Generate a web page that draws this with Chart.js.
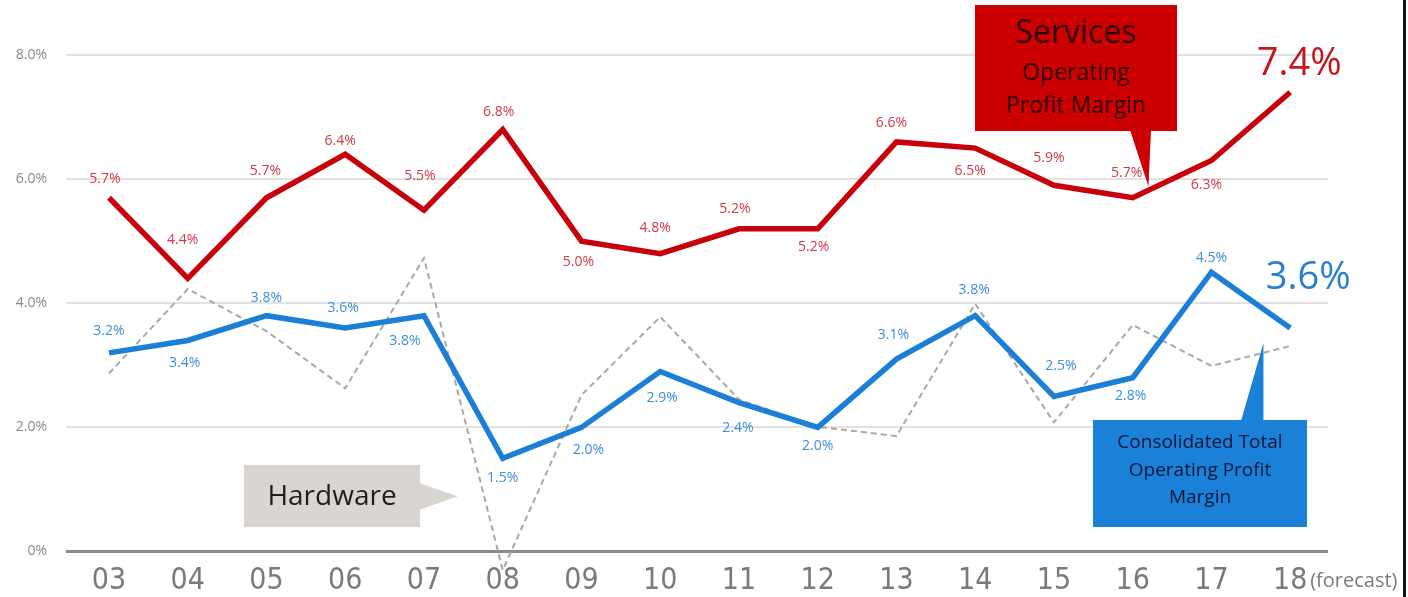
<!DOCTYPE html>
<html>
<head>
<meta charset="utf-8">
<script src="https://cdn.jsdelivr.net/npm/chart.js@4/dist/chart.umd.min.js"></script>
<style>
  html, body { margin: 0; padding: 0; background: #ffffff; }
  #wrap { width: 1408px; height: 597px; position: relative; }
</style>
</head>
<body>
<div id="wrap"><canvas id="c" width="1408" height="597"></canvas></div>
<script>
// ---- Data ----
const categories = ['03','04','05','06','07','08','09','10','11','12','13','14','15','16','17','18'];
const servicesMargin = [5.7, 4.4, 5.7, 6.4, 5.5, 6.8, 5.0, 4.8, 5.2, 5.2, 6.6, 6.5, 5.9, 5.7, 6.3, 7.4];
const consolidatedMargin = [3.2, 3.4, 3.8, 3.6, 3.8, 1.5, 2.0, 2.9, 2.4, 2.0, 3.1, 3.8, 2.5, 2.8, 4.5, 3.6];
const hardwareMargin = [2.87, 4.23, 3.55, 2.63, 4.73, -0.3, 2.52, 3.78, 2.45, 2.01, 1.86, 3.99, 2.08, 3.65, 2.99, 3.31];
const yTickValues = [0, 2, 4, 6, 8];
const yTickLabels = ['0%', '2.0%', '4.0%', '6.0%', '8.0%'];
const forecastNote = '(forecast)';

// ---- Label placement (styling only) ----
const servicesLabelDx = [-4,-5,-1,-5,-4,-4,-3,-5,-4,-4,-5,-5,-5,-6,-5,9];
const servicesLabelDy = [-19,-38,-27,-13,-34,-17,21,-26,-20,18,-19,23,-27,-25,25,-28];
const consolidatedLabelDx = [0,-3,0,-2,-19,0,7,2,-1,0,-3,-1,7,-2,0,18];
const consolidatedLabelDy = [-22,23,-18,-20,25,20,23,26,25,19,-24,-26,-30,18,-14,-50];

const FONT = "'Liberation Sans Narrow', 'DejaVu Sans Condensed', 'Open Sans', sans-serif";
const FONT2 = "'Open Sans', 'Lato', sans-serif";

const RED = '#c8000a', RED_TXT = '#cf3a45';
const BLUE = '#1b7fd8', BLUE_TXT = '#3b8ede';

const overlay = {
  id: 'overlay',
  afterDatasetsDraw(chart) {
    const ctx = chart.ctx;
    const xs = chart.scales.x, ys = chart.scales.y;
    ctx.save();

    // data labels
    ctx.textAlign = 'center';
    ctx.textBaseline = 'middle';
    const last = categories.length - 1;
    servicesMargin.forEach((v, i) => {
      const x = xs.getPixelForValue(i) + servicesLabelDx[i];
      const y = ys.getPixelForValue(v) + servicesLabelDy[i];
      ctx.fillStyle = i === last ? '#c4161c' : RED_TXT;
      ctx.font = i === last ? "38px " + FONT2 : "14px " + FONT2;
      ctx.fillText(v.toFixed(1) + '%', x, y);
    });
    consolidatedMargin.forEach((v, i) => {
      const x = xs.getPixelForValue(i) + consolidatedLabelDx[i];
      const y = ys.getPixelForValue(v) + consolidatedLabelDy[i];
      ctx.fillStyle = i === last ? '#2a7fd0' : BLUE_TXT;
      ctx.font = i === last ? "38px " + FONT2 : "14px " + FONT2;
      ctx.fillText(v.toFixed(1) + '%', x, y);
    });

    // (forecast)
    ctx.fillStyle = '#7a7a7a';
    ctx.font = "20px " + FONT2;
    ctx.textAlign = 'left';
    ctx.fillText(forecastNote, xs.getPixelForValue(last) + 20, 581);

    // Services callout
    const rTipX = xs.getPixelForValue(13.2), rTipY = ys.getPixelForValue(5.88);
    ctx.fillStyle = '#cc0000';
    ctx.fillRect(975, 5, 202, 126);
    ctx.beginPath();
    ctx.moveTo(1130, 130); ctx.lineTo(1151, 130); ctx.lineTo(rTipX, rTipY); ctx.closePath(); ctx.fill();
    ctx.fillStyle = '#2a0000';
    ctx.textAlign = 'center';
    ctx.font = "32px " + FONT2;
    ctx.fillText('Services', 1076, 34);
    ctx.font = "23px " + FONT2;
    ctx.fillText('Operating', 1076, 73);
    ctx.fillText('Profit Margin', 1076, 106);

    // Consolidated callout
    const bTipX = xs.getPixelForValue(14.66), bTipY = ys.getPixelForValue(3.36);
    ctx.fillStyle = '#1a80d8';
    ctx.fillRect(1093, 420, 214, 107);
    ctx.beginPath();
    ctx.moveTo(1241, 421); ctx.lineTo(bTipX, 421); ctx.lineTo(bTipX, bTipY); ctx.closePath(); ctx.fill();
    ctx.fillStyle = '#0a1838';
    ctx.font = "19px " + FONT2;
    ctx.fillText('Consolidated Total', 1200, 443);
    ctx.fillText('Operating Profit', 1200, 471);
    ctx.fillText('Margin', 1200, 498);

    // Hardware callout
    const hTipX = xs.getPixelForValue(4.43), hTipY = ys.getPixelForValue(0.89);
    ctx.fillStyle = '#d9d6d2';
    ctx.fillRect(244, 465, 176, 62);
    ctx.beginPath();
    ctx.moveTo(419, 483); ctx.lineTo(hTipX, hTipY); ctx.lineTo(419, 510); ctx.closePath(); ctx.fill();
    ctx.fillStyle = '#1e1e1e';
    ctx.font = "28px " + FONT2;
    ctx.fillText('Hardware', 332, 497);

    // right frame edge
    ctx.fillStyle = '#111';
    ctx.fillRect(1403, 0, 3, 597);
    ctx.restore();
  }
};

new Chart(document.getElementById('c'), {
  type: 'line',
  data: {
    datasets: [
      {
        label: 'Consolidated Total Operating Profit Margin',
        data: consolidatedMargin.map((v, i) => ({ x: i, y: v })),
        borderColor: BLUE, borderWidth: 5.5, pointRadius: 0, tension: 0, order: 0,
        borderJoinStyle: 'miter'
      },
      {
        label: 'Services Operating Profit Margin',
        data: servicesMargin.map((v, i) => ({ x: i, y: v })),
        borderColor: RED, borderWidth: 5.5, pointRadius: 0, tension: 0, order: 1,
        borderJoinStyle: 'miter'
      },
      {
        label: 'Hardware',
        data: hardwareMargin.map((v, i) => ({ x: i, y: v })),
        borderColor: '#a8a8a8', borderWidth: 2, borderDash: [6, 4], pointRadius: 0, tension: 0, order: 2,
        clip: false
      }
    ]
  },
  options: {
    responsive: false,
    animation: false,
    devicePixelRatio: 1,
    layout: { padding: { top: 55, right: 80, bottom: 0, left: 0 } },
    plugins: { legend: { display: false }, tooltip: { enabled: false } },
    scales: {
      x: {
        type: 'linear',
        min: -0.546, max: 15.48,
        bounds: 'data',
        afterBuildTicks: (s) => { s.ticks = categories.map((_, i) => ({ value: i })); },
        afterFit: (s) => { s.height = 45.5; },
        grid: { display: false, drawTicks: false },
        border: { display: false },
        ticks: {
          autoSkip: false, maxRotation: 0, padding: 12,
          color: '#7a7a7a',
          font: { size: 30, family: FONT },
          callback: (v) => categories[v] ?? ''
        }
      },
      y: {
        min: 0, max: 8,
        afterBuildTicks: (s) => { s.ticks = yTickValues.map(v => ({ value: v })); },
        afterFit: (s) => { s.width = 66; },
        grid: {
          drawTicks: false,
          color: (c) => c.tick && c.tick.value === 0 ? '#8a8a8a' : '#e2e2e2',
          lineWidth: (c) => c.tick && c.tick.value === 0 ? 3 : 2
        },
        border: { display: false },
        ticks: {
          padding: 19, color: '#8a8a8a',
          font: { size: 14, family: FONT2 },
          callback: (v) => yTickLabels[yTickValues.indexOf(v)] ?? ''
        }
      }
    }
  },
  plugins: [overlay]
});
</script>
</body>
</html>
